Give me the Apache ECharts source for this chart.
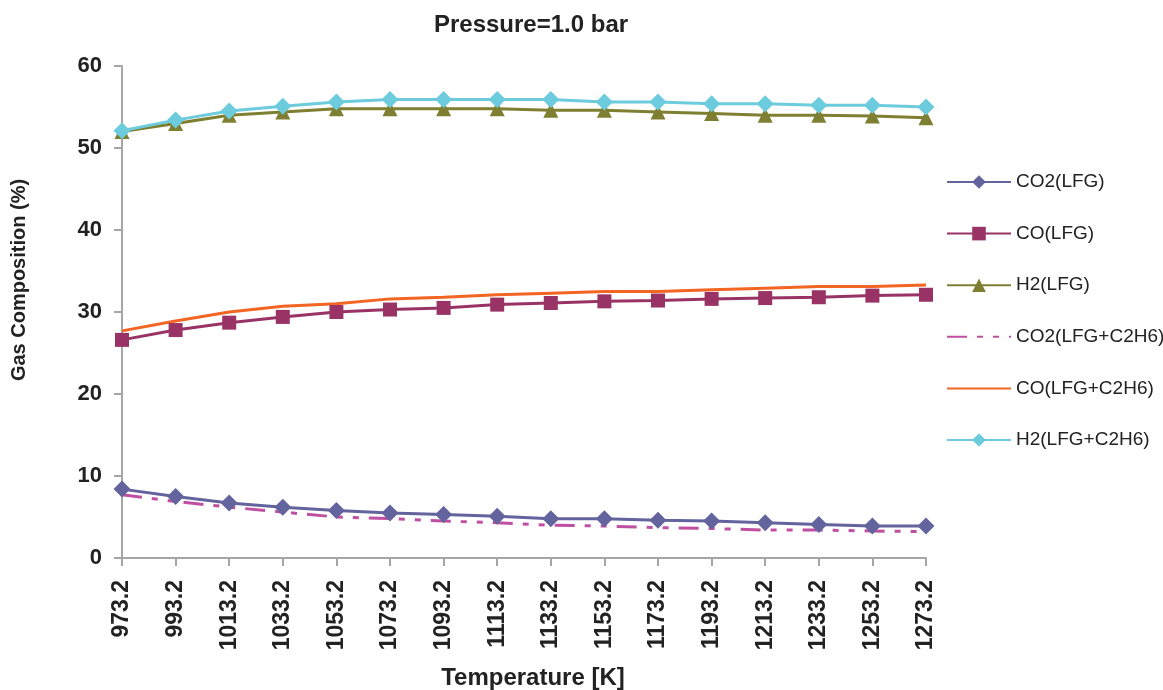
<!DOCTYPE html>
<html>
<head>
<meta charset="utf-8">
<script src="https://cdn.jsdelivr.net/npm/echarts@6/dist/echarts.min.js"></script>
<style>
  html, body { margin: 0; padding: 0; background: #fff; }
  #chart { width: 1163px; height: 690px; }
</style>
</head>
<body>
<div id="chart"></div>
<script>
// Temperature categories [K]
const temperatures = ['973.2','993.2','1013.2','1033.2','1053.2','1073.2','1093.2','1113.2',
  '1133.2','1153.2','1173.2','1193.2','1213.2','1233.2','1253.2','1273.2'];

// Gas composition (%) per series
const co2LFG = [8.4, 7.5, 6.7, 6.2, 5.8, 5.5, 5.3, 5.1, 4.8, 4.8, 4.6, 4.5, 4.3, 4.1, 3.9, 3.9];
const coLFG = [26.6, 27.8, 28.7, 29.4, 30.0, 30.3, 30.5, 30.9, 31.1, 31.3, 31.4, 31.6, 31.7, 31.8, 32.0, 32.1];
const h2LFG = [52.0, 53.0, 54.0, 54.4, 54.8, 54.8, 54.8, 54.8, 54.6, 54.6, 54.4, 54.2, 54.0, 54.0, 53.9, 53.7];
const co2Mix = [7.7, 6.9, 6.2, 5.6, 5.0, 4.8, 4.5, 4.3, 4.0, 3.9, 3.7, 3.6, 3.4, 3.4, 3.3, 3.2];
const coMix = [27.7, 28.9, 30.0, 30.7, 31.0, 31.6, 31.8, 32.1, 32.3, 32.5, 32.5, 32.7, 32.9, 33.1, 33.1, 33.3];
const h2Mix = [52.1, 53.4, 54.5, 55.1, 55.6, 55.9, 55.9, 55.9, 55.9, 55.6, 55.6, 55.4, 55.4, 55.2, 55.2, 55.0];

const seriesNames = ['CO2(LFG)', 'CO(LFG)', 'H2(LFG)', 'CO2(LFG+C2H6)', 'CO(LFG+C2H6)', 'H2(LFG+C2H6)'];

const font = 'Liberation Sans, Arial, sans-serif';

function lineSeries(name, data, color, symbol, size, extra) {
  return Object.assign({
    name: name,
    type: 'line',
    data: data,
    symbol: symbol,
    symbolSize: size,
    showSymbol: symbol !== 'none',
    lineStyle: { color: color, width: 3 },
    itemStyle: { color: color },
    emphasis: { disabled: true },
    animation: false
  }, extra || {});
}

// Line-only series get no marker in the legend
const plainLines = ['CO2(LFG+C2H6)', 'CO(LFG+C2H6)'];
const legendData = seriesNames.map(function (n) {
  return plainLines.indexOf(n) >= 0 ? { name: n, itemStyle: { opacity: 0 } } : { name: n };
});

const chart = echarts.init(document.getElementById('chart'), null, { renderer: 'canvas' });

chart.setOption({
  backgroundColor: '#ffffff',
  title: {
    text: 'Pressure=1.0 bar',
    left: 526,
    textAlign: 'center',
    top: 8,
    textStyle: { fontFamily: font, fontWeight: 'bold', fontSize: 24, color: '#222' }
  },
  legend: {
    orient: 'vertical',
    left: 941,
    top: 167,
    itemWidth: 64,
    itemHeight: 17,
    itemGap: 31.6,
    textStyle: { fontFamily: font, fontSize: 19, lineHeight: 20, color: '#222' },
    data: legendData
  },
  grid: {
    left: 122, right: 237, top: 66, bottom: 132,
    containLabel: false,
    outerBoundsMode: 'none'
  },
  xAxis: {
    type: 'category',
    data: temperatures,
    boundaryGap: false,
    name: 'Temperature [K]',
    nameLocation: 'middle',
    nameGap: 108,
    nameTextStyle: { fontFamily: font, fontWeight: 'bold', fontSize: 24, color: '#222', padding: [0, 0, 0, 18] },
    axisLine: { lineStyle: { color: '#a6a6a6', width: 2 } },
    axisTick: { show: true, alignWithLabel: true, length: 8, lineStyle: { color: '#a6a6a6', width: 2 } },
    axisLabel: {
      rotate: 90,
      margin: 22,
      interval: 0,
      fontFamily: font, fontWeight: 'bold', fontSize: 23, color: '#222'
    },
    splitLine: { show: false }
  },
  yAxis: {
    type: 'value',
    min: 0,
    max: 60,
    interval: 10,
    name: 'Gas Composition (%)',
    nameLocation: 'middle',
    nameGap: 93,
    nameRotate: 90,
    nameTextStyle: { fontFamily: font, fontWeight: 'bold', fontSize: 20, color: '#222', padding: [0, 0, 0, 64] },
    axisLine: { show: true, lineStyle: { color: '#a6a6a6', width: 2 } },
    axisTick: { show: true, length: 8, lineStyle: { color: '#a6a6a6', width: 2 } },
    axisLabel: {
      margin: 20,
      fontFamily: font, fontWeight: 'bold', fontSize: 22, color: '#222'
    },
    splitLine: { show: false }
  },
  series: [
    lineSeries('CO2(LFG)', co2LFG, '#63639e', 'diamond', 17),
    lineSeries('CO(LFG)', coLFG, '#993366', 'rect', 14),
    lineSeries('H2(LFG)', h2LFG, '#7f7f32', 'triangle', 15),
    lineSeries('CO2(LFG+C2H6)', co2Mix, '#bf4fa0', 'none', 0, {
      lineStyle: { color: '#bf4fa0', width: 3, type: [20, 10, 6, 10, 6, 10] }
    }),
    lineSeries('CO(LFG+C2H6)', coMix, '#f26522', 'none', 0),
    lineSeries('H2(LFG+C2H6)', h2Mix, '#6ccbdc', 'diamond', 17)
  ]
});
</script>
</body>
</html>
